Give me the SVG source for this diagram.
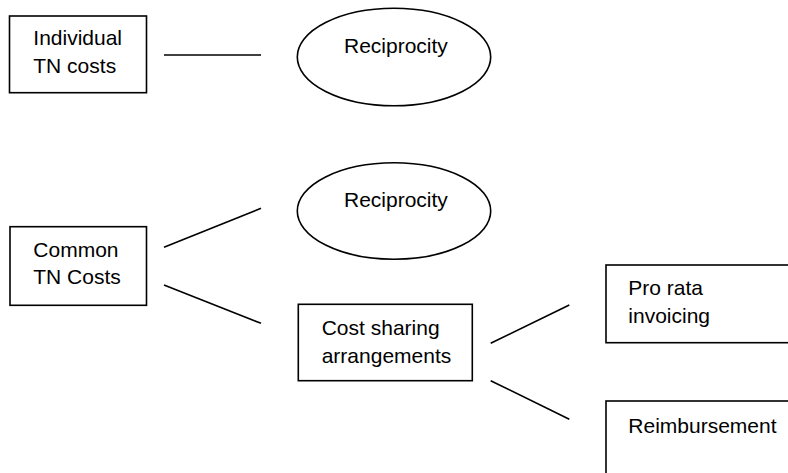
<svg xmlns="http://www.w3.org/2000/svg" width="788" height="473" viewBox="0 0 788 473">
<style>
.box{fill:#fff;stroke:#000;stroke-width:1.6}
.ell{fill:#fff;stroke:#000;stroke-width:1.6}
.lbl{font-family:"Liberation Sans",Arial,sans-serif;font-size:21px;fill:#000}
.con line{stroke:#000;stroke-width:1.6}
</style>
<rect width="788" height="473" fill="#fff"/>
<g id="connectors" class="con">
<line x1="164" y1="55" x2="261" y2="55"/>
<line x1="164" y1="247.3" x2="261" y2="208.3"/>
<line x1="164" y1="285" x2="261" y2="323.3"/>
<line x1="490.7" y1="343.3" x2="569.3" y2="305"/>
<line x1="490.7" y1="380.7" x2="569.3" y2="419.3"/>
</g>
<g id="individual">
<rect class="box" x="9.5" y="16" width="137" height="76.7"/>
<text class="lbl" x="33.3" y="45">Individual</text>
<text class="lbl" x="33.3" y="72.7">TN costs</text>
</g>
<g id="reciprocity1">
<ellipse class="ell" cx="394" cy="57" rx="96.7" ry="48.7"/>
<text class="lbl" x="344" y="53.3">Reciprocity</text>
</g>
<g id="common">
<rect class="box" x="10" y="226.7" width="136.5" height="78.6"/>
<text class="lbl" x="33.3" y="257.3">Common</text>
<text class="lbl" x="33.3" y="284">TN Costs</text>
</g>
<g id="reciprocity2">
<ellipse class="ell" cx="394" cy="211" rx="96.7" ry="48.2"/>
<text class="lbl" x="344" y="206.7">Reciprocity</text>
</g>
<g id="costsharing">
<rect class="box" x="298.3" y="304.3" width="174" height="76.4"/>
<text class="lbl" x="321.7" y="335">Cost sharing</text>
<text class="lbl" x="321.7" y="362.5">arrangements</text>
</g>
<g id="prorata">
<rect class="box" x="606" y="265" width="200" height="77.7"/>
<text class="lbl" x="628.3" y="295">Pro rata</text>
<text class="lbl" x="628.3" y="322.7">invoicing</text>
</g>
<g id="reimbursement">
<rect class="box" x="606" y="401" width="200" height="90"/>
<text class="lbl" x="628.3" y="433.3">Reimbursement</text>
</g>
</svg>
